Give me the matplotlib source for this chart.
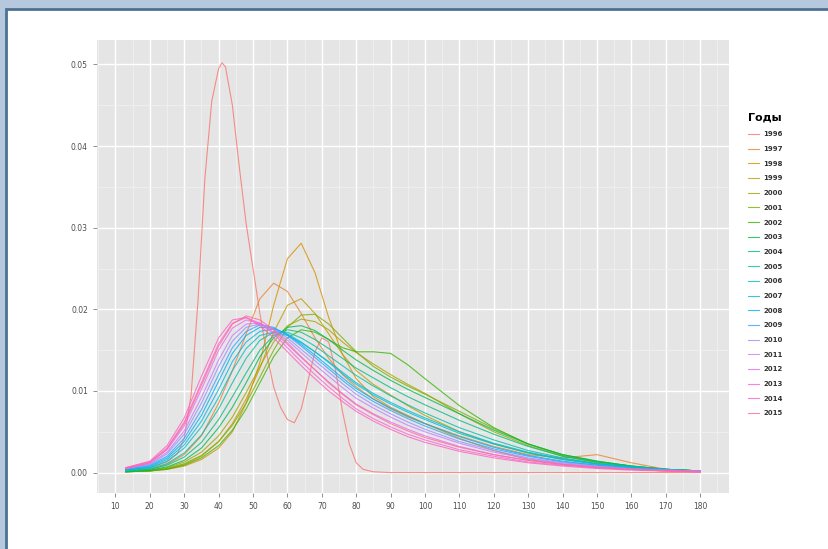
import matplotlib
matplotlib.use("Agg")
import matplotlib.pyplot as plt
from matplotlib.patches import Rectangle

# shared x grid for the density curves
x = [13, 20, 25, 30, 35, 40, 44, 48, 52, 56, 60, 64, 68, 72, 76, 80, 85, 90, 95, 100,
     110, 120, 130, 140, 150, 160, 170, 180]

# 1996 is bimodal and needs its own finer grid
x_1996 = [13, 20, 25, 28, 30, 32, 34, 36, 38, 40, 41, 42, 44, 46, 48, 50, 52, 54, 56, 58,
          60, 62, 64, 66, 68, 70, 72, 74, 76, 78, 80, 82, 85, 90, 100, 120, 140, 160, 180]
y_1996 = [0.0003, 0.0006, 0.0013, 0.0023, 0.0042, 0.0095, 0.021, 0.036, 0.0455, 0.0495, 0.0502,
          0.0497, 0.045, 0.0375, 0.0305, 0.025, 0.0195, 0.0145, 0.0105, 0.008, 0.0065, 0.0061,
          0.0078, 0.0113, 0.0148, 0.0165, 0.016, 0.0125, 0.0075, 0.0035, 0.0012, 0.0004, 0.0001,
          0.0, 0.0, 0.0, 0.0, 0.0, 0.0]

y_1997 = [0.0002, 0.0004, 0.001, 0.0022, 0.0045, 0.0085, 0.0125, 0.017, 0.0213, 0.0232, 0.0222,
          0.0195, 0.0165, 0.014, 0.012, 0.0105, 0.009, 0.0078, 0.0068, 0.006, 0.0045, 0.0032,
          0.0022, 0.0018, 0.0022, 0.0012, 0.0004, 0.0002]
y_1998 = [0.0001, 0.0002, 0.0004, 0.0008, 0.0016, 0.003, 0.005, 0.0085, 0.0135, 0.0205, 0.0262,
          0.0281, 0.0245, 0.019, 0.0145, 0.0115, 0.0093, 0.008, 0.007, 0.006, 0.0042, 0.0027,
          0.0016, 0.001, 0.0007, 0.0005, 0.0003, 0.0002]
y_1999 = [0.0001, 0.0002, 0.0005, 0.001, 0.002, 0.0038, 0.006, 0.009, 0.0128, 0.0172, 0.0205,
          0.0213, 0.0195, 0.017, 0.0145, 0.0125, 0.0108, 0.0095, 0.0082, 0.007, 0.005, 0.0035,
          0.0024, 0.0016, 0.0011, 0.0007, 0.0004, 0.0002]
y_2000 = [0.0001, 0.0003, 0.0006, 0.0013, 0.0025, 0.0045, 0.0068, 0.0098, 0.013, 0.016, 0.018,
          0.0188, 0.0185, 0.0175, 0.016, 0.0147, 0.0133, 0.012, 0.0108, 0.0097, 0.0072, 0.005,
          0.0033, 0.002, 0.0012, 0.0007, 0.0004, 0.0002]
y_2001 = [0.0001, 0.0002, 0.0005, 0.0011, 0.0021, 0.0038, 0.0058, 0.0085, 0.0117, 0.015, 0.0178,
          0.0193, 0.0194, 0.0182, 0.0165, 0.0148, 0.013, 0.0117, 0.0106, 0.0096, 0.0075, 0.0054,
          0.0035, 0.0021, 0.0013, 0.0008, 0.0004, 0.0002]
y_2002 = [0.0001, 0.0002, 0.0004, 0.0009, 0.0018, 0.0033, 0.0052, 0.0078, 0.011, 0.0142, 0.0165,
          0.0175, 0.0172, 0.0163, 0.0153, 0.0148, 0.0148, 0.0146, 0.0132, 0.0115, 0.0082, 0.0055,
          0.0035, 0.0022, 0.0014, 0.0008, 0.0004, 0.0002]
y_2003 = [0.0001, 0.0003, 0.0007, 0.0015, 0.003, 0.0055, 0.008, 0.011, 0.0142, 0.0165, 0.0178,
          0.018, 0.0174, 0.0163, 0.015, 0.0138, 0.0125, 0.0113, 0.0102, 0.0092, 0.0072, 0.0052,
          0.0035, 0.0022, 0.0014, 0.0008, 0.0004, 0.0002]
y_2004 = [0.0002, 0.0004, 0.0009, 0.0019, 0.0037, 0.0065, 0.0093, 0.0122, 0.015, 0.0168, 0.0175,
          0.0172, 0.0163, 0.0152, 0.014, 0.0128, 0.0116, 0.0104, 0.0093, 0.0083, 0.0064, 0.0047,
          0.0032, 0.002, 0.0013, 0.0008, 0.0004, 0.0002]
y_2005 = [0.0002, 0.0005, 0.0011, 0.0024, 0.0046, 0.0078, 0.011, 0.014, 0.0162, 0.0172, 0.0172,
          0.0165, 0.0155, 0.0143, 0.0131, 0.0119, 0.0106, 0.0094, 0.0083, 0.0073, 0.0055, 0.004,
          0.0027, 0.0018, 0.0011, 0.0007, 0.0004, 0.0002]
y_2006 = [0.0003, 0.0006, 0.0014, 0.003, 0.0056, 0.0092, 0.0125, 0.0152, 0.0168, 0.0172, 0.0168,
          0.0159, 0.0148, 0.0136, 0.0123, 0.011, 0.0097, 0.0086, 0.0076, 0.0067, 0.005, 0.0036,
          0.0025, 0.0017, 0.0011, 0.0007, 0.0004, 0.0002]
y_2007 = [0.0003, 0.0007, 0.0016, 0.0034, 0.0063, 0.0102, 0.0136, 0.016, 0.0173, 0.0176, 0.017,
          0.016, 0.0148, 0.0135, 0.0121, 0.0108, 0.0095, 0.0084, 0.0074, 0.0065, 0.0048, 0.0035,
          0.0024, 0.0016, 0.001, 0.0006, 0.0003, 0.0002]
y_2008 = [0.0004, 0.0008, 0.0018, 0.0038, 0.007, 0.0112, 0.0146, 0.0168, 0.0178, 0.0177, 0.0169,
          0.0157, 0.0144, 0.013, 0.0116, 0.0103, 0.009, 0.0079, 0.0069, 0.006, 0.0044, 0.0031,
          0.0021, 0.0014, 0.0009, 0.0006, 0.0003, 0.0002]
y_2009 = [0.0004, 0.0009, 0.002, 0.0042, 0.0077, 0.012, 0.0153, 0.0173, 0.0181, 0.0178, 0.0168,
          0.0155, 0.0141, 0.0127, 0.0113, 0.01, 0.0087, 0.0076, 0.0066, 0.0057, 0.0041, 0.0029,
          0.002, 0.0013, 0.0009, 0.0005, 0.0003, 0.0002]
y_2010 = [0.0005, 0.001, 0.0023, 0.0047, 0.0085, 0.013, 0.0161, 0.0178, 0.0182, 0.0176, 0.0165,
          0.0151, 0.0137, 0.0123, 0.0109, 0.0096, 0.0083, 0.0072, 0.0062, 0.0053, 0.0038, 0.0027,
          0.0018, 0.0012, 0.0008, 0.0005, 0.0003, 0.0002]
y_2011 = [0.0005, 0.0011, 0.0025, 0.0051, 0.0092, 0.0138, 0.0168, 0.0182, 0.0183, 0.0175, 0.0162,
          0.0147, 0.0132, 0.0118, 0.0104, 0.0091, 0.0079, 0.0068, 0.0058, 0.005, 0.0036, 0.0025,
          0.0017, 0.0011, 0.0007, 0.0004, 0.0003, 0.0002]
y_2012 = [0.0005, 0.0012, 0.0028, 0.0057, 0.0102, 0.015, 0.0177, 0.0187, 0.0183, 0.0172, 0.0157,
          0.0141, 0.0126, 0.0111, 0.0097, 0.0084, 0.0072, 0.0062, 0.0053, 0.0045, 0.0032, 0.0022,
          0.0015, 0.001, 0.0006, 0.0004, 0.0002, 0.0001]
y_2013 = [0.0006, 0.0013, 0.003, 0.0062, 0.011, 0.0158, 0.0183, 0.019, 0.0183, 0.017, 0.0153,
          0.0136, 0.012, 0.0105, 0.0091, 0.0078, 0.0066, 0.0056, 0.0047, 0.004, 0.0028, 0.002,
          0.0013, 0.0009, 0.0006, 0.0004, 0.0002, 0.0001]
y_2014 = [0.0006, 0.0014, 0.0033, 0.0067, 0.0118, 0.0165, 0.0187, 0.019, 0.018, 0.0165, 0.0148,
          0.0131, 0.0115, 0.01, 0.0087, 0.0075, 0.0063, 0.0053, 0.0044, 0.0037, 0.0026, 0.0018,
          0.0012, 0.0008, 0.0005, 0.0003, 0.0002, 0.0001]
y_2015 = [0.0005, 0.0012, 0.0029, 0.006, 0.0107, 0.0155, 0.0182, 0.0192, 0.0187, 0.0175, 0.0159,
          0.0142, 0.0126, 0.011, 0.0096, 0.0083, 0.0071, 0.006, 0.0051, 0.0043, 0.0031, 0.0022,
          0.0015, 0.001, 0.0006, 0.0004, 0.0002, 0.0001]

years = ["1996", "1997", "1998", "1999", "2000", "2001", "2002", "2003", "2004", "2005",
         "2006", "2007", "2008", "2009", "2010", "2011", "2012", "2013", "2014", "2015"]
series = [y_1996, y_1997, y_1998, y_1999, y_2000, y_2001, y_2002, y_2003, y_2004, y_2005,
          y_2006, y_2007, y_2008, y_2009, y_2010, y_2011, y_2012, y_2013, y_2014, y_2015]

# ggplot2 default hue palette for 20 levels
colours = ["#F8766D", "#EA8331", "#D89000", "#C09B00", "#A3A500", "#7CAE00", "#39B600",
           "#00BB4E", "#00BF7D", "#00C1A3", "#00BFC4", "#00BAE0", "#00B0F6", "#35A2FF",
           "#9590FF", "#C77CFF", "#E76BF3", "#FA62DB", "#FF62BC", "#FF6C91"]

xticks = list(range(10, 190, 10))
yticks = [0.00, 0.01, 0.02, 0.03, 0.04, 0.05]

fig = plt.figure(figsize=(8.29, 5.49), dpi=100, facecolor="#b5c8de")
# white page with dark blue edge, kept behind the axes
page = Rectangle((6 / 829, -0.01), 1.0, (549 - 9) / 549 + 0.01,
                 transform=fig.transFigure, facecolor="white",
                 edgecolor="#4e7191", linewidth=2, zorder=-10)
fig.patches.append(page)

ax = fig.add_axes([97 / 829, 56 / 549, 632 / 829, 453 / 549])
ax.set_zorder(1)
ax.set_facecolor("#e5e5e5")

for i in range(len(years)):
    xs = x_1996 if i == 0 else x
    ax.plot(xs, series[i], color=colours[i], lw=0.8, alpha=0.8, label=years[i])

ax.set_xlim(4.65, 188.35)
ax.set_ylim(-0.0025, 0.053)
ax.set_xticks(xticks)
ax.set_xticklabels([str(v) for v in xticks])
ax.set_yticks(yticks)
ax.set_yticklabels(["%.2f" % v for v in yticks])
ax.set_xticks([v + 5 for v in xticks[:-1]] + [5, 185], minor=True)
ax.set_yticks([0.005, 0.015, 0.025, 0.035, 0.045], minor=True)

ax.grid(which="major", color="white", lw=1.0)
ax.grid(which="minor", color="#f2f2f2", lw=0.5)
ax.set_axisbelow(True)
for s in ax.spines.values():
    s.set_visible(False)
ax.tick_params(which="major", length=3, color="#7f7f7f", labelsize=5.5,
               labelcolor="#4d4d4d", width=0.6)
ax.tick_params(which="minor", length=0)

leg = fig.legend(loc="upper left", bbox_to_anchor=(745 / 829, 1 - 110 / 549),
                 title="Годы", fontsize=5, frameon=False, handlelength=1.6,
                 labelspacing=1.25, handletextpad=0.6, borderaxespad=0)
leg.get_title().set_fontweight("bold")
leg.get_title().set_fontsize(8)
leg._legend_box.align = "left"
for t in leg.get_texts():
    t.set_fontweight("bold")
    t.set_color("#333333")

fig.savefig("out.png", dpi=100, facecolor=fig.get_facecolor())
